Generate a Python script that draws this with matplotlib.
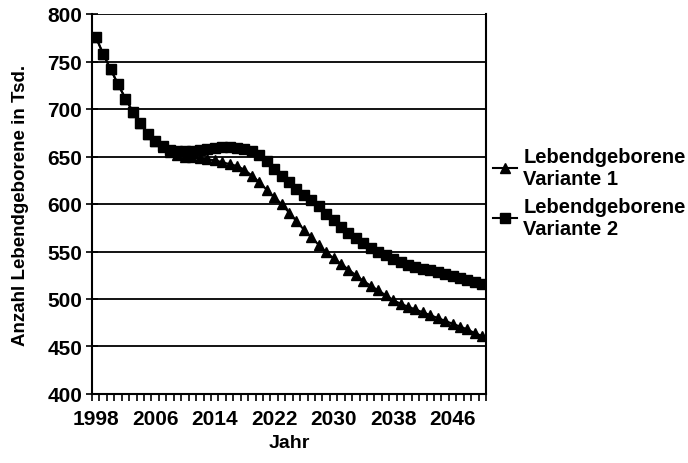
import matplotlib
matplotlib.use("Agg")
import matplotlib.pyplot as plt
import numpy as np

plt.rcParams['font.family'] = ['Liberation Sans', 'DejaVu Sans']
plt.rcParams['font.weight'] = 'bold'

years = np.arange(1998, 2051)

# Lebendgeborene in Tsd.
variante1 = [776, 758, 742, 726, 711, 697, 685, 674, 666, 660,
             655, 652, 650, 649, 648, 647, 646, 644, 642, 640,
             636, 630, 623, 615, 607, 600, 591, 582, 573, 565,
             557, 549, 543, 537, 531, 525, 519, 514, 509, 504,
             499, 495, 492, 489, 486, 483, 480, 477, 474, 471,
             468, 464, 461]
variante2 = [776, 758, 742, 726, 711, 697, 685, 674, 666, 661,
             657, 656, 656, 656, 657, 658, 659, 660, 660, 659,
             658, 656, 652, 645, 637, 630, 623, 616, 610, 604,
             598, 590, 583, 576, 570, 564, 559, 554, 550, 546,
             542, 539, 536, 534, 532, 530, 528, 526, 524, 522,
             520, 518, 516]

labels = ["Lebendgeborene\nVariante 1", "Lebendgeborene\nVariante 2"]

fig = plt.figure(figsize=(6.88, 4.64), dpi=100)
ax = fig.add_axes([92/688, 1-395/464, (486-92)/688, (395-15)/464])

l1, = ax.plot(years, variante1, color="black", lw=1.5, marker="^", ms=6.5)
l2, = ax.plot(years, variante2, color="black", lw=1.5, marker="s", ms=6.5)

ax.set_xlim(1997.5, 2050.5)
ax.set_ylim(400, 800)
ax.set_yticks(np.arange(400, 801, 50))
ax.yaxis.grid(True, color="black", lw=1.3)
ax.set_axisbelow(True)

ax.set_xticks(np.arange(1998, 2051, 8))
ax.set_xticks(np.arange(1997.5, 2051, 1), minor=True)
ax.tick_params(axis="x", which="major", length=0, labelsize=15, pad=11)
ax.tick_params(axis="x", which="minor", length=5, width=1.2, direction="out")
ax.tick_params(axis="y", which="major", length=8, width=1.2, direction="inout", labelsize=15, pad=3)

for s in ax.spines.values():
    s.set_linewidth(1.5)
ax.spines["top"].set_visible(False)

ax.set_xlabel("Jahr", fontsize=14, fontweight="bold", labelpad=4)
ax.set_ylabel("Anzahl Lebendgeborene in Tsd.", fontsize=13.5, fontweight="bold")
ax.yaxis.set_label_coords(-0.16, 0.5)

fig.legend([l1, l2], labels, loc="upper left", bbox_to_anchor=(493/688, 1-148/464),
           frameon=False, fontsize=14.5, handlelength=1.2, handletextpad=0.3,
           labelspacing=0.45, borderaxespad=0, borderpad=0)

fig.savefig("out.png", dpi=100)
